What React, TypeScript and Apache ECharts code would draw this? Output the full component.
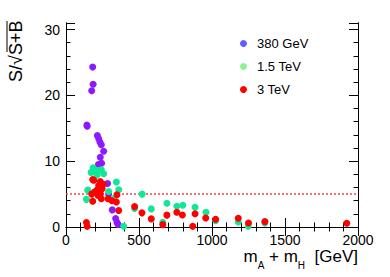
import React, { useEffect, useRef } from "react";
import * as echarts from "echarts";

const seriesNames = ["380 GeV", "1.5 TeV", "3 TeV"];
const pointColors = ["#8c1aff", "#10e898", "#ff0000"];
const legendColors = ["#6060ff", "#90f090", "#ff0000"];

const data380: [number, number][] = [
  [183, 24.3], [186, 21.7], [176, 20.7], [143, 15.5], [145, 15.3], [215, 13.9],
  [224, 13.4], [232, 12.9], [242, 12.5], [258, 11.5], [235, 10.6], [244, 9.7],
  [222, 9.5], [285, 6.6], [292, 5.0], [317, 2.6], [340, 1.3], [349, 0.7], [356, 0.4],
];
const data1500: [number, number][] = [
  [186, 9.0], [172, 8.3], [200, 8.5], [224, 8.6], [242, 8.7], [258, 8.1], [212, 7.9],
  [149, 5.6], [140, 4.2], [292, 5.4], [345, 6.85], [361, 5.65], [325, 4.3], [395, 0.1],
  [470, 2.8], [522, 5.0], [584, 2.75], [663, 0.7], [691, 3.6], [759, 3.15], [800, 3.3],
  [884, 3.0], [959, 2.25], [1025, 0.97], [1180, 0.75], [1248, 0.1], [1362, 0.6],
];
const data3000: [number, number][] = [
  [140, 0.67], [145, 0.1], [183, 7.2], [176, 5.0], [183, 3.9], [190, 7.1], [235, 6.9],
  [224, 6.3], [247, 5.8], [195, 5.3], [235, 5.0], [242, 4.3], [212, 5.6], [220, 4.8],
  [255, 6.5], [288, 4.3], [315, 4.0], [345, 3.8], [349, 4.9], [361, 2.5], [470, 3.1],
  [520, 2.15], [584, 1.23], [663, 0.36], [691, 1.8], [759, 2.25], [797, 1.83], [868, 0.1],
  [884, 2.0], [957, 1.38], [1025, 1.17], [1180, 1.33], [1250, 0.62], [1362, 0.82], [1923, 0.56],
];
const thresholdLine: [number, number][] = [[0, 5], [2000, 5]];

const X_MIN = 0, X_MAX = 2000, X_INTERVAL = 500;
const Y_MIN = 0, Y_MAX = 31, Y_MAJOR = 10, Y_MINOR = 2;

const FONT = "Liberation Sans, Arial, Helvetica, sans-serif";

export default function App() {
  const ref = useRef<HTMLDivElement>(null);
  useEffect(() => {
    document.body.style.margin = "0";
    const chart = echarts.init(ref.current!, null, { renderer: "svg" });
    const axisLine = { show: true, lineStyle: { color: "#000", width: 1 } };
    const xBase = (pos: string, labels: boolean) => ({
      type: "value", position: pos, min: X_MIN, max: X_MAX, interval: X_INTERVAL,
      axisLine, splitLine: { show: false },
      axisTick: { show: true, inside: true, length: 9, lineStyle: { color: "#000" } },
      minorTick: { show: true, splitNumber: 5, length: 4.5, lineStyle: { color: "#000" } },
      axisLabel: {
        show: labels, color: "#000", fontSize: 14, fontFamily: FONT, margin: 6,
        formatter: (v: number) => String(v),
      },
    });
    const yBase = (pos: string, interval: number, len: number, labels: boolean) => ({
      type: "value", position: pos, min: Y_MIN, max: Y_MAX, interval,
      axisLine, splitLine: { show: false },
      axisTick: { show: true, inside: true, length: len, lineStyle: { color: "#000" } },
      axisLabel: {
        show: labels, color: "#000", fontSize: 14, fontFamily: FONT, margin: 6,
        formatter: (v: number) => (v % 10 === 0 ? String(v) : ""),
      },
    });
    const datasets = [data380, data1500, data3000];
    chart.setOption({
      animation: false,
      grid: { left: 66, right: 32, top: 23, bottom: 50 },
      xAxis: [xBase("bottom", true), xBase("top", false)],
      yAxis: [
        yBase("left", Y_MAJOR, 9, true),
        yBase("left", Y_MINOR, 4.5, false),
        yBase("right", Y_MAJOR, 9, false),
        yBase("right", Y_MINOR, 4.5, false),
      ],
      legend: {
        orient: "vertical", left: 235, top: 32, itemWidth: 7, itemHeight: 7, itemGap: 10,
        icon: "circle",
        textStyle: { fontSize: 13, fontFamily: FONT, color: "#000", padding: [0, 0, 0, 5] },
        data: seriesNames.map((n, i) => ({ name: n, itemStyle: { color: legendColors[i] } })),
      },
      graphic: [
        {
          type: "text", x: 16, y: 82, rotation: Math.PI / 2,
          style: { text: "S/√S+B", font: `18px ${FONT}`, fill: "#000", textAlign: "left", textVerticalAlign: "middle" },
        },
        { type: "line", shape: { x1: 7, y1: 21, x2: 7, y2: 52 }, style: { stroke: "#000", lineWidth: 1 } },
        {
          type: "text", x: 358, y: 256,
          style: {
            text: "m{s|A} + m{s|H}  [GeV]", textAlign: "right", textVerticalAlign: "middle",
            font: `17px ${FONT}`, fill: "#000",
            rich: { s: { fontSize: 10, fontFamily: FONT, verticalAlign: "bottom", padding: [0, 0, -6, 0], fill: "#000" } },
          },
        },
      ],
      series: [
        {
          type: "line", data: thresholdLine, symbol: "none", silent: true, z: 1,
          lineStyle: { color: "#ff4040", width: 1.5, type: [2, 2] },
        },
        ...datasets.map((d, i) => ({
          name: seriesNames[i], type: "scatter", data: d, symbol: "circle", symbolSize: 7, z: 2 + i,
          itemStyle: { color: pointColors[i], opacity: 1 },
        })),
      ],
    });
    return () => chart.dispose();
  }, []);
  return <div ref={ref} style={{ width: 390, height: 277 }} />;
}
